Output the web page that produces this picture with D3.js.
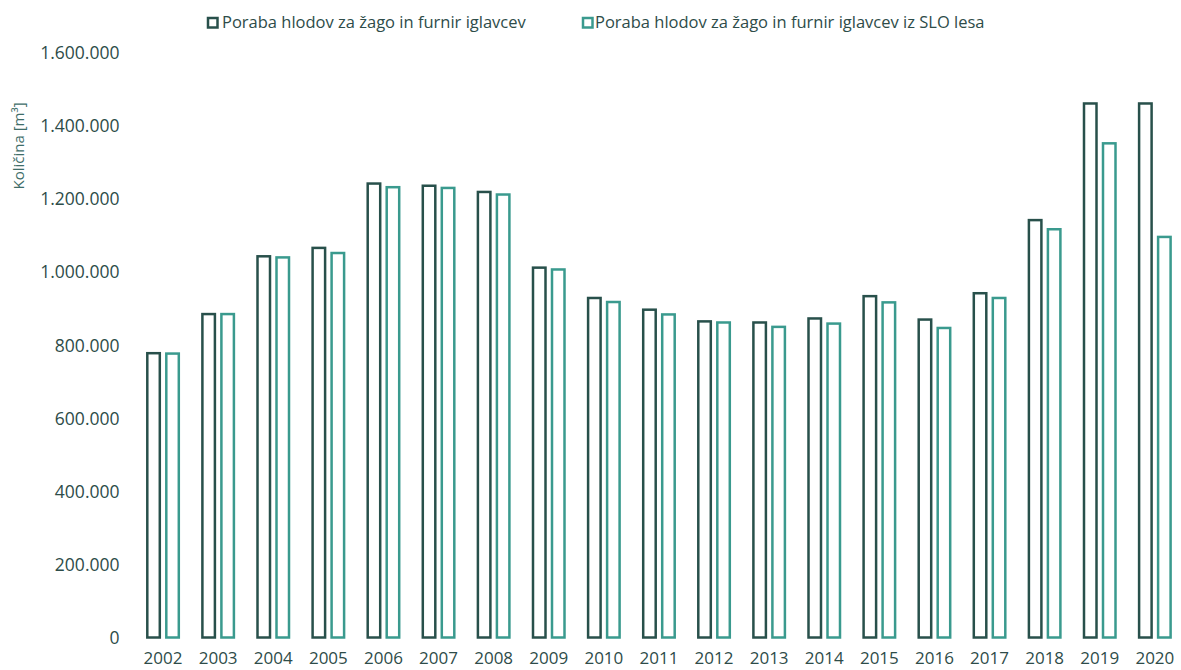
<!DOCTYPE html>
<html>
<head>
<meta charset="utf-8">
<script src="https://cdn.jsdelivr.net/npm/d3@7"></script>
<style>
  html, body { margin: 0; padding: 0; background: #fff; }
  svg { display: block; }
  text { font-family: "Open Sans", "Noto Sans", sans-serif; }
</style>
</head>
<body>
<svg id="chart" width="1181" height="670"></svg>
<script>
// Poraba hlodov za žago in furnir iglavcev (m3), 2002–2020
const years = ["2002","2003","2004","2005","2006","2007","2008","2009","2010","2011",
               "2012","2013","2014","2015","2016","2017","2018","2019","2020"];
const seriesNames = ["Poraba hlodov za žago in furnir iglavcev",
                     "Poraba hlodov za žago in furnir iglavcev iz SLO lesa"];
const totalUse = [781000, 888000, 1046000, 1069000, 1245000, 1239000, 1222000, 1015000, 932000, 900000,
                  868000, 865000, 876000, 937000, 873000, 945000, 1145000, 1464000, 1464000];
const sloUse   = [780000, 888000, 1043000, 1055000, 1235000, 1233000, 1215000, 1010000, 921000, 887000,
                  865000, 853000, 862000, 920000, 850000, 932000, 1120000, 1355000, 1099000];
const yTicks = [0, 200000, 400000, 600000, 800000, 1000000, 1200000, 1400000, 1600000];

const colors = ["#28504b", "#3a9a8e"];
const textColor = "#2e4c49";

const svg = d3.select("#chart");
const fmt = v => d3.format(",")(v).replace(/,/g, ".");

const y = d3.scaleLinear().domain([0, 1600000]).range([637.5, 52.5]);
const x = d3.scaleBand().domain(years).range([135.5, 1182.4]);
const xInner = d3.scaleBand().domain([0, 1]).range([-17, 17]).paddingInner(4 / 19);

// Y axis labels
const yAxis = d3.axisLeft(y).tickValues(yTicks).tickFormat(fmt).tickSize(0).tickPadding(0);
const gy = svg.append("g").attr("transform", "translate(119.5,0.5)").call(yAxis);
gy.select(".domain").remove();
gy.selectAll("text").attr("fill", textColor).style("font-size", "17.5px")
  .style("font-family", "\"Open Sans\", sans-serif");

// X axis labels
const xAxis = d3.axisBottom(x).tickSize(0).tickPadding(0);
const gx = svg.append("g").attr("transform", "translate(0,652)").call(xAxis);
gx.select(".domain").remove();
gx.selectAll("text").attr("fill", textColor).style("font-size", "17px")
  .style("font-family", "\"Open Sans\", sans-serif");

// Y title
svg.append("text")
  .attr("transform", "translate(24,146) rotate(-90)")
  .attr("text-anchor", "middle")
  .attr("fill", "#3e6d68")
  .style("font-size", "15px")
  .text("Količina [m³]");

// Bars
const sw = 2.5;
const data = years.map((yr, i) => ({ year: yr, values: [totalUse[i], sloUse[i]] }));
const groups = svg.append("g").selectAll("g").data(data).join("g")
  .attr("transform", d => `translate(${x(d.year) + x.bandwidth() / 2},0)`);
groups.selectAll("rect").data(d => d.values.map((v, k) => ({ v, k }))).join("rect")
  .attr("x", d => xInner(d.k) + sw / 2)
  .attr("width", xInner.bandwidth() - sw)
  .attr("y", d => y(d.v) + sw / 2)
  .attr("height", d => y(0) - y(d.v) - sw / 2)
  .attr("fill", "#fff")
  .attr("stroke", d => colors[d.k])
  .attr("stroke-width", sw);

// Legend
const legendBoxX = [208, 583];
const legendTextX = [222, 595];
const legend = svg.append("g").selectAll("g").data(seriesNames).join("g");
legend.append("rect")
  .attr("x", (d, i) => legendBoxX[i]).attr("y", 18)
  .attr("width", 9.5).attr("height", 9.5)
  .attr("fill", "#fff").attr("stroke", (d, i) => colors[i]).attr("stroke-width", 2.5);
legend.append("text")
  .attr("x", (d, i) => legendTextX[i]).attr("y", 28)
  .attr("fill", textColor)
  .style("font-size", "16.5px")
  .text(d => d);
</script>
</body>
</html>
